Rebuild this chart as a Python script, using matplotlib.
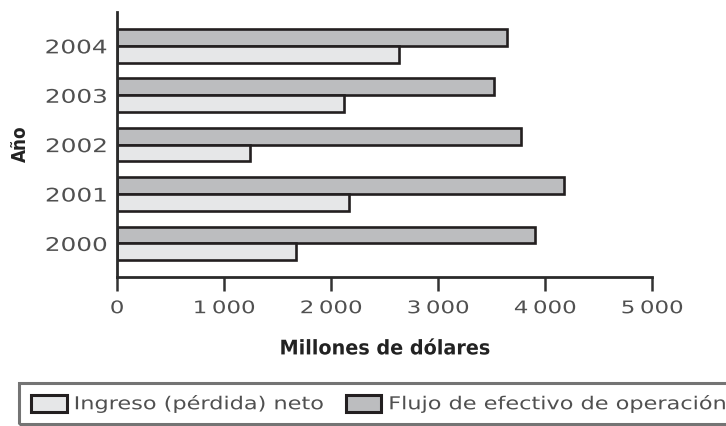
import matplotlib
matplotlib.use("Agg")
import matplotlib.pyplot as plt
from matplotlib.patches import Patch, Rectangle
from matplotlib.patheffects import AbstractPathEffect
from matplotlib.transforms import Affine2D
import numpy as np

years = ["2000", "2001", "2002", "2003", "2004"]
ingreso_neto = [1670, 2170, 1240, 2120, 2640]
flujo_operacion = [3910, 4180, 3780, 3520, 3650]
x_ticks = [0, 1000, 2000, 3000, 4000, 5000]
x_tick_labels = ["0", "1\u2009000", "2\u2009000", "3\u2009000", "4\u2009000", "5\u2009000"]

light_fill = "#e6e7e8"
dark_fill = "#bcbdbf"
edge = "#231f20"
text_grey = "#505050"


class HStretch(AbstractPathEffect):
    """Widen glyphs horizontally, keeping the aligned point fixed."""

    def __init__(self, sx, anchor=0.0):
        super().__init__()
        self.sx = sx
        self.anchor = anchor

    def draw_path(self, renderer, gc, tpath, affine, rgbFace=None):
        xs = tpath.vertices[:, 0]
        w = xs.max() if len(xs) else 0.0
        a = self.anchor * w
        pre = Affine2D().translate(-a, 0).scale(self.sx, 1).translate(a, 0)
        renderer.draw_path(gc, tpath, pre + affine, rgbFace)


W, H = 726, 427
fig = plt.figure(figsize=(W / 100, H / 100), dpi=100)
ax = fig.add_axes([0.161, 0.349, 0.737, 0.621])

pos = np.arange(len(years))
h = 0.34
ax.barh(pos + h / 2, flujo_operacion, height=h, color=dark_fill,
        edgecolor=edge, linewidth=1.9)
ax.barh(pos - h / 2, ingreso_neto, height=h, color=light_fill,
        edgecolor=edge, linewidth=1.9)

ax.set_xlim(0, 5000)
ax.set_ylim(-0.68, 4.69)
ax.set_yticks(pos)
ax.set_yticklabels(years, fontsize=13.5, color=text_grey)
ax.set_xticks(x_ticks)
ax.set_xticklabels(x_tick_labels, fontsize=12.5, color=text_grey)

ax.tick_params(axis="y", length=0, pad=7)
ax.tick_params(axis="x", length=10, width=1.8, color="#333333", pad=6,
               direction="out")

for lbl in ax.get_yticklabels():
    lbl.set_path_effects([HStretch(1.32, 1.0)])
for lbl in ax.get_xticklabels():
    lbl.set_path_effects([HStretch(1.32, 0.5)])

for side in ("top", "right"):
    ax.spines[side].set_visible(False)
for side in ("left", "bottom"):
    ax.spines[side].set_linewidth(2.0)
    ax.spines[side].set_color("#2a2a2a")

xl = ax.set_xlabel("Millones de dólares", fontsize=14.5, fontweight="bold",
                   fontstretch="condensed", color="#222222", labelpad=16)
xl.set_path_effects([HStretch(1.06, 0.5)])

fig.text(20 / W, 1 - 144 / H, "Año", rotation=90, ha="center",
         va="center", fontsize=13.5, fontweight="bold",
         fontstretch="condensed", color="#222222")

# legend box running off the right edge
box_left, box_top, box_bottom = 19, 384, 425
fig.add_artist(Rectangle((box_left / W, 1 - box_bottom / H),
                         (W + 40 - box_left) / W,
                         (box_bottom - box_top) / H,
                         transform=fig.transFigure, facecolor="none",
                         edgecolor="#747474", linewidth=2.2, zorder=1))

handles = [
    Patch(facecolor=light_fill, edgecolor=edge, linewidth=2.2,
          label="Ingreso (pérdida) neto"),
    Patch(facecolor=dark_fill, edgecolor=edge, linewidth=2.2,
          label="Flujo de efectivo de operación"),
]
leg = fig.legend(handles=handles, loc="center left",
                 bbox_to_anchor=(31 / W, 1 - 405 / H), ncol=2,
                 fontsize=12.8, frameon=False, handlelength=2.0,
                 handleheight=1.07, handletextpad=0.4, columnspacing=4.1,
                 borderpad=0.0, borderaxespad=0.0, labelcolor="#505050")
for t in leg.get_texts():
    t.set_path_effects([HStretch(1.26, 0.0)])

fig.savefig("out.png", dpi=100)
